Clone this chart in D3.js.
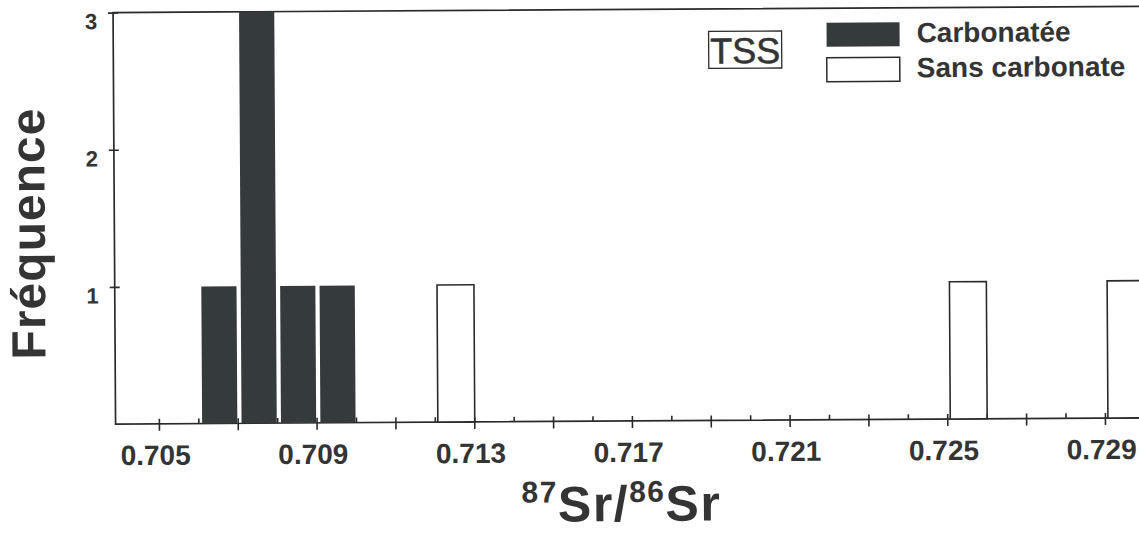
<!DOCTYPE html>
<html>
<head>
<meta charset="utf-8">
<script src="https://cdn.jsdelivr.net/npm/d3@7"></script>
<style>
  body { margin: 0; background: #fff; }
  svg { display: block; }
  text { font-family: "Liberation Sans", Arial, Helvetica, sans-serif; }
</style>
</head>
<body>
<svg id="chart" width="1139" height="533"></svg>
<script>
// ---- data ----
const carbBins = [0.706, 0.707, 0.708, 0.709];
const carbCounts = [1, 3, 1, 1];
const sansBins = [0.712, 0.725, 0.729];
const sansCounts = [1, 1, 1];
const binWidth = 0.001;
const xLabelTicks = [0.705, 0.709, 0.713, 0.717, 0.721, 0.725, 0.729];
const xMajorTicks = [0.705, 0.707, 0.709, 0.711, 0.713, 0.715, 0.717, 0.719, 0.721, 0.723, 0.725, 0.727, 0.729];
const xMinorTicks = [0.706, 0.708, 0.710, 0.712, 0.714, 0.716, 0.718, 0.720, 0.722, 0.724, 0.726, 0.728];
const yTicks = [1, 2, 3];
const seriesNames = ["Carbonatée", "Sans carbonate"];
const panelLabel = "TSS";
const yTitle = "Fréquence";

// ---- layout ----
const ink = "#2b2b2b";
const textInk = "#343434";
const darkFill = "#353b3d";

const svg = d3.select("#chart");
const root = svg.append("g").attr("transform", "rotate(-0.35,620,266)");

const x = d3.scaleLinear().domain([0.7039, 0.7302]).range([114.6, 1151.3]);
const y = d3.scaleLinear().domain([0, 3]).range([421, 9.5]);
const x0 = x.range()[0], x1 = x.range()[1];
const yb = y(0), yt = y(3);

// frame
root.append("rect")
  .attr("x", x0).attr("y", yt)
  .attr("width", x1 - x0).attr("height", yb - yt)
  .attr("fill", "none").attr("stroke", ink).attr("stroke-width", 1.7);

// bars: carbonatée
const carb = carbBins.map((b, i) => ({ b, c: carbCounts[i] }));
root.append("g").selectAll("rect").data(carb).join("rect")
  .attr("x", d => x(d.b) + 3.8)
  .attr("y", d => y(d.c))
  .attr("width", d => x(d.b + binWidth) - x(d.b) - 4.2)
  .attr("height", d => y(0) - y(d.c))
  .attr("fill", darkFill);

// bars: sans carbonate
const sans = sansBins.map((b, i) => ({ b, c: sansCounts[i] }));
root.append("g").selectAll("rect").data(sans).join("rect")
  .attr("x", d => x(d.b) + 3)
  .attr("y", d => y(d.c))
  .attr("width", d => x(d.b + binWidth) - x(d.b) - 2.5)
  .attr("height", d => y(0) - y(d.c))
  .attr("fill", "#fff").attr("stroke", ink).attr("stroke-width", 1.6);

// x axis: major ticks crossing, minor ticks inside
const styleAxis = g => {
  g.select(".domain").remove();
  g.selectAll("line").attr("stroke", ink).attr("stroke-width", 1.6);
};
root.append("g").attr("transform", `translate(0,${yb})`)
  .call(d3.axisTop(x).tickValues(xMajorTicks).tickSize(5).tickFormat(""))
  .call(styleAxis);
root.append("g").attr("transform", `translate(0,${yb})`)
  .call(d3.axisTop(x).tickValues(xMinorTicks).tickSize(5).tickFormat(""))
  .call(styleAxis);
root.append("g").attr("transform", `translate(0,${yb})`)
  .call(d3.axisBottom(x).tickValues(xMajorTicks).tickSize(7).tickFormat(""))
  .call(styleAxis);
const xLab = root.append("g").attr("transform", `translate(0,${yb})`)
  .call(d3.axisBottom(x).tickValues(xLabelTicks).tickSize(0).tickFormat(d3.format(".3f")))
  .call(styleAxis);
xLab.selectAll("text")
  .attr("y", 41).attr("dy", 0).attr("dx", -4)
  .attr("font-size", 28).attr("font-weight", "bold")
  .attr("font-family", "'Liberation Sans', Arial, sans-serif")
  .attr("fill", textInk);

// y axis
root.append("g").attr("transform", `translate(${x0},0)`)
  .call(d3.axisRight(y).tickValues(yTicks).tickSize(5).tickFormat(""))
  .call(styleAxis);
const yAx = root.append("g").attr("transform", `translate(${x0},0)`)
  .call(d3.axisLeft(y).tickValues(yTicks).tickSize(5).tickPadding(11).tickFormat(d3.format("d")))
  .call(styleAxis);
yAx.selectAll("text")
  .attr("dy", 16)
  .attr("font-size", 22).attr("font-weight", "bold")
  .attr("font-family", "'Liberation Sans', Arial, sans-serif")
  .attr("fill", textInk);

// y title
root.append("text")
  .attr("transform", "translate(45,230) rotate(-90)")
  .attr("text-anchor", "middle")
  .attr("font-size", 48).attr("font-weight", "bold")
  .attr("letter-spacing", 1)
  .attr("fill", textInk)
  .text(yTitle);

// x title 87Sr/86Sr
const xt = root.append("text")
  .attr("x", 620).attr("y", 521)
  .attr("text-anchor", "middle")
  .attr("font-weight", "bold")
  .attr("letter-spacing", 1.5)
  .attr("fill", textInk);
xt.append("tspan").attr("font-size", 30).attr("dy", -19).text("87");
xt.append("tspan").attr("font-size", 50).attr("dy", 19).text("Sr/");
xt.append("tspan").attr("font-size", 30).attr("dy", -19).text("86");
xt.append("tspan").attr("font-size", 50).attr("dy", 19).text("Sr");

// panel label TSS
root.append("rect")
  .attr("x", 710).attr("y", 32).attr("width", 73).attr("height", 37)
  .attr("fill", "#fff").attr("stroke", ink).attr("stroke-width", 1.3);
root.append("text")
  .attr("x", 746.5).attr("y", 64)
  .attr("text-anchor", "middle")
  .attr("font-size", 36)
  .attr("fill", textInk)
  .attr("stroke", textInk).attr("stroke-width", 0.6)
  .text(panelLabel);

// legend
const leg = root.append("g");
const legItems = [
  { name: seriesNames[0], fill: darkFill, stroke: "none", y: 24 },
  { name: seriesNames[1], fill: "#fff", stroke: ink, y: 59 }
];
leg.selectAll("rect").data(legItems).join("rect")
  .attr("x", 828).attr("y", d => d.y)
  .attr("width", 73).attr("height", 24)
  .attr("fill", d => d.fill).attr("stroke", d => d.stroke).attr("stroke-width", 1.5);
leg.selectAll("text").data(legItems).join("text")
  .attr("x", 918).attr("y", d => d.y + 20)
  .attr("font-size", 28).attr("font-weight", "bold")
  .attr("fill", textInk)
  .text(d => d.name);
</script>
</body>
</html>
